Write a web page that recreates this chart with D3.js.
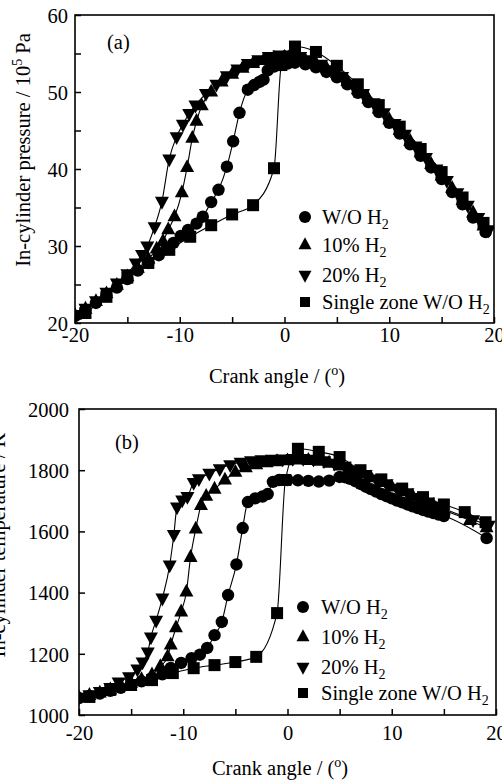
<!DOCTYPE html>
<html><head><meta charset="utf-8">
<script src="https://cdn.jsdelivr.net/npm/d3@7"></script>
<style>
body{margin:0;background:#fff}
svg{display:block}
text{font-family:"Liberation Serif","Times New Roman",serif;fill:#000}
</style>
</head><body>
<svg id="c" width="502" height="782"></svg>
<script>
// ---------- Panel (a): in-cylinder pressure (10^5 Pa) ----------
const angA_wo = [-20,-19,-18,-17,-16,-15,-14,-13,-12,-11.3,-10.6,-9.9,-9.2,-8.4,-7.8,-7.0,-6.3,-5.5,-4.9,-4.3,-3.5,-2.9,-2.4,-2.0,-1.6,-1.0,-0.4,0.3,1,2,3,4,5,6,7,8,9,10,11,12,13,14,15,16,17,18,19.2];
const pA_wo   = [20.9,21.7,22.6,23.6,24.6,25.7,26.8,27.8,28.8,29.6,30.4,31.3,32.1,32.9,33.8,35.7,37.3,40.3,43.6,47.3,50.3,50.9,51.3,51.6,52.8,53.3,53.5,53.7,53.8,53.6,53.2,52.6,51.9,51.0,49.9,48.7,47.4,46.0,44.6,43.2,41.7,40.2,38.7,37.0,35.4,33.7,31.8];

const angA_10 = [-20,-19,-18,-17,-16,-15,-14,-13,-12.2,-11.6,-11.1,-10.5,-9.8,-9.3,-8.8,-8.4,-7.9,-7,-6,-5,-4,-3,-2,-1,0,1,2,3,4,5,6,7,8,9,10,11,12,13,14,15,16,17,18,19];
const pA_10   = [21.0,21.8,22.8,23.8,24.9,26.0,27.1,28.3,29.6,30.6,32.1,33.8,36.9,40.2,44.0,46.2,48.2,50.0,51.3,52.3,53.1,53.7,54.1,54.4,54.5,54.4,54.1,53.7,53.1,52.4,51.4,50.3,49.1,47.8,46.4,45.0,43.6,42.1,40.6,39.1,37.5,35.9,34.3,32.6];

const angA_20 = [-20,-19,-18,-17,-16,-15,-14.2,-13.6,-13.1,-12.4,-11.7,-11.0,-10.3,-9.7,-9.1,-8.5,-7.5,-6.5,-5.5,-4.5,-3.5,-2.5,-1.5,-0.5,0.5,1.5,2.5,3.5,4.5,5.5,6.5,7.5,8.5,9.5,10.5,11.5,12.5,13.5,14.5,15.5,16.5,17.5,18.5,19.5];
const pA_20   = [21.1,21.9,22.9,24.0,25.2,26.4,27.8,28.9,30.0,32.5,35.8,41.3,44.2,45.8,47.2,48.3,49.8,51.0,52.1,53.0,53.7,54.2,54.6,54.8,54.8,54.6,54.2,53.6,52.9,52.0,51.0,49.8,48.6,47.3,45.9,44.5,43.0,41.5,40.0,38.5,36.9,35.3,33.7,32.1];

const angA_sz = [-19,-17,-15,-13,-11,-9,-7,-5,-3,-1,-0.3,1,3,5,7,9,11,13,15,17,19];
const pA_sz   = [21.3,23.4,25.9,27.8,29.5,31.2,32.7,34.1,35.3,40.1,53.5,55.9,55.2,53.4,51.0,48.3,45.5,42.6,39.6,36.3,33.0];

// ---------- Panel (b): in-cylinder temperature (K) ----------
const angB_wo = [-20,-19,-18,-17,-16,-15,-14,-13,-12,-11.2,-10.2,-9.2,-8.4,-7.7,-7.0,-6.3,-5.7,-4.9,-4.3,-3.8,-3.1,-2.4,-1.9,-1.4,-0.8,0,1,2,3,4,5,5.5,6,6.5,7,7.5,8,8.5,9,9.5,10,10.5,11,11.5,12,12.5,13,13.5,14,14.5,15,19.1];
const tB_wo   = [1055,1062,1070,1079,1089,1099,1110,1121,1133,1154,1170,1186,1197,1219,1261,1304,1392,1492,1611,1696,1708,1714,1722,1762,1768,1768,1767,1765,1763,1766,1778,1777,1772,1764,1755,1746,1738,1730,1722,1715,1708,1701,1695,1688,1682,1676,1670,1665,1660,1655,1650,1578];

const angB_10 = [-20,-19,-18,-17,-16,-15,-14,-13,-12.2,-11.5,-11.2,-10.7,-10.2,-9.7,-9.3,-8.8,-8.3,-7.8,-7,-6,-5,-4,-3,-2,-1,0,1,2,3,4,5,6,7,8,9,10,11,12,13,14,15,17.5,19.1];
const tB_10   = [1057,1064,1072,1082,1093,1104,1116,1131,1158,1190,1229,1285,1337,1402,1515,1608,1685,1715,1738,1768,1793,1808,1818,1824,1828,1831,1833,1832,1829,1823,1814,1802,1789,1775,1760,1745,1730,1715,1700,1685,1670,1636,1612];

const angB_20 = [-20,-19,-18,-17,-16.2,-15.2,-14.4,-13.9,-13.4,-13.1,-12.6,-12.0,-11.3,-10.9,-10.6,-10.1,-9.6,-9.0,-8.5,-7.5,-6.5,-5.5,-4.5,-3.5,-2.5,-1.5,-0.5,0.5,1.5,2.5,3.5,4.5,5.5,6.5,7.5,8.5,9.5,10.5,11.5,12.5,13.5,14.5,17.8,19.3];
const tB_20   = [1058,1066,1077,1090,1108,1125,1150,1173,1206,1255,1310,1382,1490,1590,1680,1703,1714,1760,1772,1790,1805,1818,1826,1831,1834,1836,1837,1838,1838,1836,1831,1823,1813,1800,1786,1771,1756,1741,1726,1711,1696,1681,1638,1620];

const angB_sz = [-19,-17,-15,-13,-11,-9,-7,-5,-3,-1,-0.2,1,3,5,7,9,11,13,15,17,19];
const tB_sz   = [1059,1082,1098,1114,1137,1153,1163,1173,1190,1333,1768,1870,1860,1843,1800,1770,1740,1712,1688,1663,1630];

// ---------- ticks & labels ----------
const xTicks = [-20,-10,0,10,20];
const xMinor = [-15,-5,5,15];
const yTicksA = [20,30,40,50,60];
const yMinorA = [25,35,45,55];
const yTicksB = [1000,1200,1400,1600,1800,2000];
const seriesNames = ["W/O H", "10% H", "20% H", "Single zone W/O H"];
const markerKinds = ["circle","up","down","square"];

const FS = 20.5;
const svg = d3.select("#c");

function markerPath(kind, big) {
  if (kind === "circle") { const r = big ? 6.2 : 6; return `M${r},0A${r},${r} 0 1,1 ${-r},0A${r},${r} 0 1,1 ${r},0Z`; }
  if (kind === "square") { const h = big ? 6 : 5; return `M${-h},${-h}H${h}V${h}H${-h}Z`; }
  const w = big ? 7 : 6.5, t = big ? 8.3 : 7.8, b = big ? 4.5 : 4.2;
  if (kind === "up") return `M0,${-t}L${w},${b}L${-w},${b}Z`;
  return `M0,${t}L${w},${-b}L${-w},${-b}Z`;
}

function panel(cfg) {
  const {L,R,T,B,yDomain,yTicks,yMinor,series,id} = cfg;
  const x = d3.scaleLinear().domain([-20,20]).range([L,R]);
  const y = d3.scaleLinear().domain(yDomain).range([B,T]);
  const g = svg.append("g");

  g.append("clipPath").attr("id", id).append("rect")
    .attr("x", L).attr("y", T).attr("width", R-L).attr("height", B-T);
  const plot = g.append("g").attr("clip-path", `url(#${id})`);

  const line = d3.line().x(d => x(d[0])).y(d => y(d[1])).curve(d3.curveMonotoneX);
  series.forEach(s => {
    const pts = s.a.map((a,i) => [a, s.v[i]]);
    plot.append("path").attr("d", line(pts)).attr("fill","none")
      .attr("stroke","#000").attr("stroke-width",1.1);
  });
  series.forEach(s => {
    const pts = s.a.map((a,i) => [a, s.v[i]]);
    plot.selectAll(null).data(pts).enter().append("path")
      .attr("d", markerPath(s.kind, true))
      .attr("transform", d => `translate(${x(d[0])},${y(d[1])})`)
      .attr("fill","#000");
  });

  const styleAxis = sel => {
    sel.attr("font-family", null).attr("font-size", null);
    sel.select(".domain").remove();
    sel.selectAll(".tick line").attr("stroke","#000").attr("stroke-width",1.5);
    sel.selectAll("text").style("font-size", FS + "px");
  };
  const gx = g.append("g").attr("transform", `translate(0,${B})`)
    .call(d3.axisBottom(x).tickValues(xTicks).tickSize(-6).tickFormat(d => String(d)));
  styleAxis(gx);
  gx.selectAll("text").attr("y", cfg.xLabOff).attr("dy", null);
  const gxm = g.append("g").attr("transform", `translate(0,${B})`)
    .call(d3.axisBottom(x).tickValues(xMinor).tickSize(-6).tickFormat(""));
  styleAxis(gxm);

  const gy = g.append("g").attr("transform", `translate(${L},0)`)
    .call(d3.axisLeft(y).tickValues(yTicks).tickSize(-6).tickFormat(d => String(d)));
  styleAxis(gy);
  gy.selectAll("text").attr("x", -cfg.yLabGap).attr("dy", "0.36em");
  if (yMinor.length) {
    const gym = g.append("g").attr("transform", `translate(${L},0)`)
      .call(d3.axisLeft(y).tickValues(yMinor).tickSize(-6).tickFormat(""));
    styleAxis(gym);
  }

  g.append("rect").attr("x", L).attr("y", T).attr("width", R-L).attr("height", B-T)
    .attr("fill","none").attr("stroke","#000").attr("stroke-width",1.6);

  g.append("text").attr("x", cfg.tagX).attr("y", cfg.tagY).style("font-size", FS+"px").text(cfg.tag);

  const xt = g.append("text").attr("x", cfg.xtX).attr("y", cfg.xtY)
    .attr("text-anchor","middle").style("font-size", FS+"px");
  xt.append("tspan").text("Crank angle / (");
  xt.append("tspan").attr("dy", -8).style("font-size","14px").text("o");
  xt.append("tspan").attr("dy", 8).text(")");

  const yt = g.append("text")
    .attr("transform", `translate(${cfg.ytX},${cfg.ytY}) rotate(-90)`)
    .attr("text-anchor","middle").style("font-size", FS+"px");
  cfg.yTitle(yt);

  cfg.legY.forEach((ly, i) => {
    g.append("path").attr("d", markerPath(markerKinds[i], false))
      .attr("transform", `translate(${cfg.legX},${ly})`).attr("fill","#000");
    const t = g.append("text").attr("x", cfg.legTX).attr("y", ly + 7).style("font-size", FS+"px");
    t.append("tspan").text(seriesNames[i]);
    t.append("tspan").attr("dy", 5).style("font-size","14px").text("2");
  });
}

panel({
  id: "clipA", L: 75, R: 494, T: 15, B: 323, yDomain: [20,60],
  yTicks: yTicksA, yMinor: yMinorA, xLabOff: 19, yLabGap: 7,
  series: [
    {a: angA_wo, v: pA_wo, kind: "circle"},
    {a: angA_10, v: pA_10, kind: "up"},
    {a: angA_20, v: pA_20, kind: "down"},
    {a: angA_sz, v: pA_sz, kind: "square"}
  ],
  tag: "(a)", tagX: 107, tagY: 49,
  xtX: 277, xtY: 383,
  ytX: 30, ytY: 150,
  yTitle: t => {
    t.append("tspan").text("In-cylinder pressure / 10");
    t.append("tspan").attr("dy", -8).style("font-size","14px").text("5");
    t.append("tspan").attr("dy", 8).text(" Pa");
  },
  legX: 305, legTX: 322, legY: [217,245,275,302]
});

panel({
  id: "clipB", L: 79, R: 496, T: 409, B: 715, yDomain: [1000,2000],
  yTicks: yTicksB, yMinor: [], xLabOff: 25, yLabGap: 10,
  series: [
    {a: angB_wo, v: tB_wo, kind: "circle"},
    {a: angB_10, v: tB_10, kind: "up"},
    {a: angB_20, v: tB_20, kind: "down"},
    {a: angB_sz, v: tB_sz, kind: "square"}
  ],
  tag: "(b)", tagX: 115, tagY: 449,
  xtX: 280, xtY: 775,
  ytX: 5, ytY: 545,
  yTitle: t => { t.text("In-cylinder temperature / K"); },
  legX: 303, legTX: 321, legY: [607,637,667,693]
});
</script>
</body></html>
